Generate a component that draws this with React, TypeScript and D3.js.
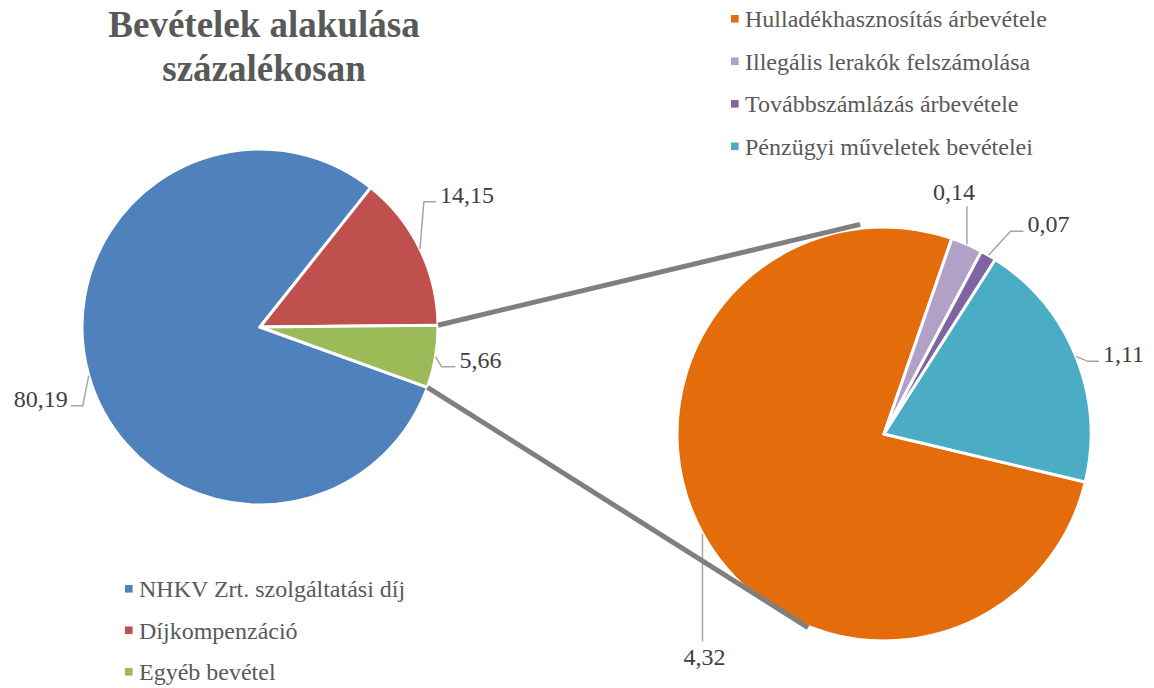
import React from "react";
import * as d3 from "d3";

const leftCategories = ["NHKV Zrt. szolgáltatási díj", "Díjkompenzáció", "Egyéb bevétel"];
const leftValues = [80.19, 14.15, 5.66];
const leftColors = ["#4F81BD", "#C0504D", "#9BBB59"];

const rightCategories = [
  "Hulladékhasznosítás árbevétele",
  "Illegális lerakók felszámolása",
  "Továbbszámlázás árbevétele",
  "Pénzügyi műveletek bevételei",
];
const rightValues = [4.32, 0.14, 0.07, 1.11];
const rightColors = ["#E46C0A", "#B2A1C7", "#8064A2", "#4BACC6"];

const deg = Math.PI / 180;
const FS: React.CSSProperties = { fontFamily: "Liberation Serif" };

type LabelLayout = { ex: number; ey: number; h: number; tdx: number; mode: "side" | "up" | "down" };
const leftLabelLayout: LabelLayout[] = [
  { ex: -6, ey: 30, h: -12, tdx: 0, mode: "side" },
  { ex: 4, ey: -47, h: 12, tdx: 0, mode: "side" },
  { ex: 6, ey: 10, h: 14, tdx: 0, mode: "side" },
];
const rightLabelLayout: LabelLayout[] = [
  { ex: 0, ey: 108, h: 0, tdx: 2, mode: "down" },
  { ex: 0, ey: -38, h: 0, tdx: -13, mode: "up" },
  { ex: 22, ey: -24, h: 13, tdx: 0, mode: "side" },
  { ex: 12, ey: 5, h: 11, tdx: 0, mode: "side" },
];

const fmt = (v: number) => v.toFixed(2).replace(".", ",");

function Pie({
  cx, cy, r, values, colors, start, layout,
}: {
  cx: number; cy: number; r: number; values: number[]; colors: string[]; start: number; layout: LabelLayout[];
}) {
  const pie = d3.pie<number>().sort(null).value((d) => d).startAngle(start).endAngle(start + 2 * Math.PI);
  const arcs = pie(values);
  const arc = d3.arc<d3.PieArcDatum<number>>().innerRadius(0).outerRadius(r);
  return (
    <g>
      {arcs.map((a, i) => (
        <path key={i} d={arc(a) || ""} transform={`translate(${cx},${cy})`} fill={colors[i]} stroke="#fff" strokeWidth={3} strokeLinejoin="round" />
      ))}
      {arcs.map((a, i) => {
        const mid = (a.startAngle + a.endAngle) / 2;
        const ax = cx + r * Math.sin(mid);
        const ay = cy - r * Math.cos(mid);
        const L = layout[i];
        const bx = ax + L.ex;
        const by = ay + L.ey;
        const ex = bx + L.h;
        let tx = ex, ty = by, anchor: "start" | "end" | "middle" = "start";
        if (L.mode === "side") {
          anchor = L.h < 0 ? "end" : "start";
          tx = L.h < 0 ? ex - 3 : ex + 4;
          ty = by + 1;
        } else if (L.mode === "up") {
          anchor = "middle";
          ty = by - 6;
        } else {
          anchor = "middle";
          ty = by + 24;
        }
        tx += L.tdx;
        return (
          <g key={"l" + i}>
            <polyline points={`${ax},${ay} ${bx},${by} ${ex},${by}`} fill="none" stroke="#A6A6A6" strokeWidth={1.5} />
            <text x={tx} y={ty} textAnchor={anchor} style={FS} fontSize={24} fill="#404040">{fmt(values[i])}</text>
          </g>
        );
      })}
    </g>
  );
}

export default function App() {
  const W = 1154, H = 688;
  const L = { cx: 260, cy: 327, r: 178 };
  const R = { cx: 884, cy: 434, r: 207 };
  const leftStart = 109.8 * deg;
  const rightStart = 103.4 * deg;

  const lp = d3.pie<number>().sort(null).value((d) => d).startAngle(leftStart).endAngle(leftStart + 2 * Math.PI)(leftValues);
  const g = lp[2];
  const p1 = [L.cx + L.r * Math.sin(g.startAngle), L.cy - L.r * Math.cos(g.startAngle)];
  const p2 = [L.cx + L.r * Math.sin(g.endAngle), L.cy - L.r * Math.cos(g.endAngle)];
  const q1a = 353.5 * deg, q2a = 201.4 * deg;
  const q1 = [R.cx + 211 * Math.sin(q1a), R.cy - 211 * Math.cos(q1a)];
  const q2 = [R.cx + 208 * Math.sin(q2a), R.cy - 208 * Math.cos(q2a)];

  return (
    <svg width={W} height={H} style={{ position: "absolute", left: 0, top: 0 }}>
      <rect width={W} height={H} fill="#fff" />
      <text x={264} y={37} textAnchor="middle" style={FS} fontSize={37} fontWeight="bold" fill="#595959">Bevételek alakulása</text>
      <text x={264} y={81} textAnchor="middle" style={FS} fontSize={37} fontWeight="bold" fill="#595959">százalékosan</text>

      <Pie cx={L.cx} cy={L.cy} r={L.r} values={leftValues} colors={leftColors} start={leftStart} layout={leftLabelLayout} />
      <Pie cx={R.cx} cy={R.cy} r={R.r} values={rightValues} colors={rightColors} start={rightStart} layout={rightLabelLayout} />

      <line x1={p1[0]} y1={p1[1]} x2={q1[0]} y2={q1[1]} stroke="#7F7F7F" strokeWidth={5} />
      <line x1={p2[0]} y1={p2[1]} x2={q2[0]} y2={q2[1]} stroke="#7F7F7F" strokeWidth={5} />

      {rightCategories.map((c, i) => (
        <g key={c}>
          <rect x={731} y={27 + i * 42.5 - 12} width={7.6} height={7.6} fill={rightColors[i]} />
          <text x={745} y={27 + i * 42.5} style={FS} fontSize={24} fill="#595959">{c}</text>
        </g>
      ))}
      {leftCategories.map((c, i) => (
        <g key={c}>
          <rect x={125} y={597 + i * 41.5 - 12} width={7.6} height={7.6} fill={leftColors[i]} />
          <text x={139} y={597 + i * 41.5} style={FS} fontSize={24} fill="#595959">{c}</text>
        </g>
      ))}
    </svg>
  );
}
